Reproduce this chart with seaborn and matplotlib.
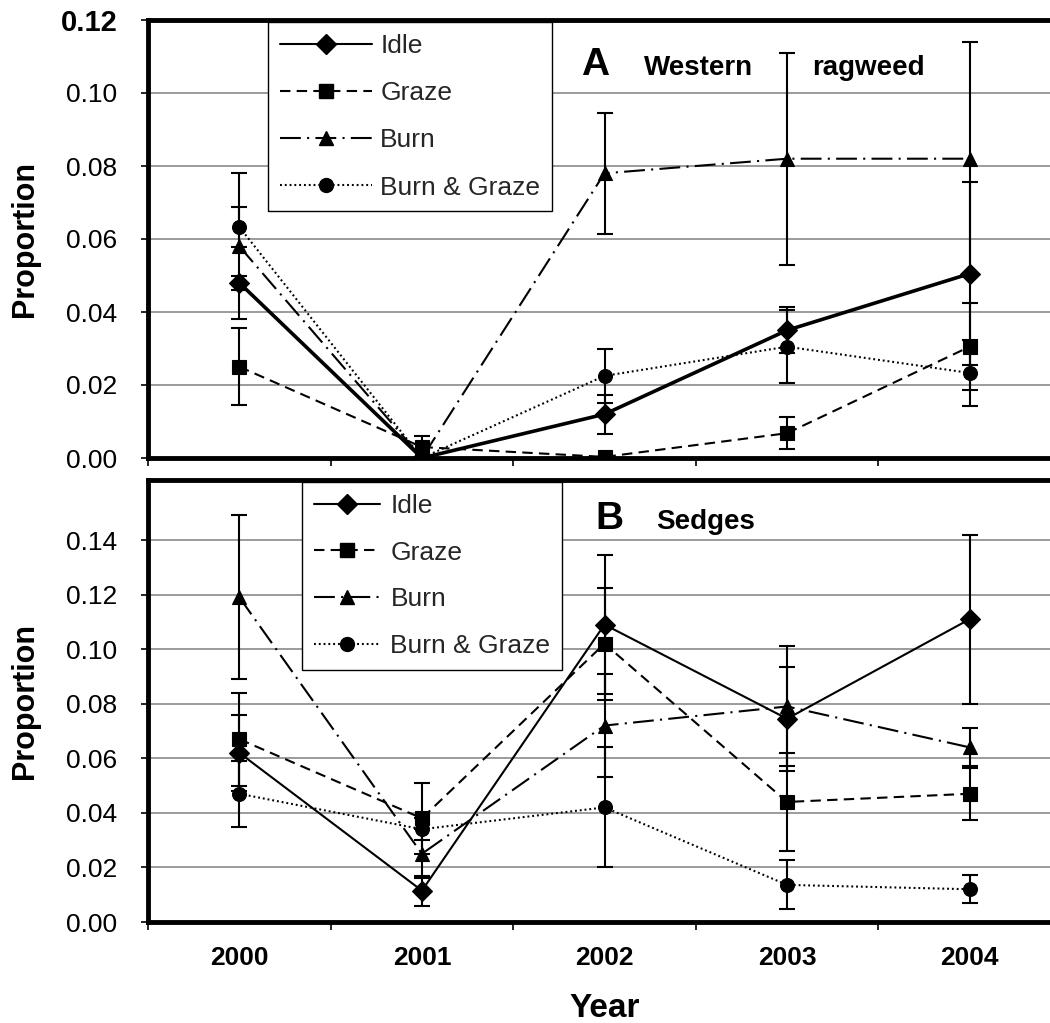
import matplotlib
matplotlib.use("Agg")
import matplotlib.pyplot as plt
from matplotlib.lines import Line2D
import seaborn as sns
import pandas as pd
import numpy as np

# ---------------- data ----------------
years = ["2000", "2001", "2002", "2003", "2004"]
treatments = ["Idle", "Graze", "Burn", "Burn & Graze"]

# Panel A: Western ragweed (mean proportion and error)
ragweed_idle = [0.048, 0.000, 0.012, 0.035, 0.0505]
ragweed_idle_err = [0.002, 0.000, 0.0053, 0.0063, 0.025]
ragweed_graze = [0.025, 0.003, 0.0003, 0.0068, 0.0305]
ragweed_graze_err = [0.0105, 0.003, 0.000, 0.0043, 0.012]
ragweed_burn = [0.058, 0.000, 0.078, 0.082, 0.082]
ragweed_burn_err = [0.020, 0.000, 0.0165, 0.029, 0.032]
ragweed_burngraze = [0.0633, 0.000, 0.0225, 0.0305, 0.0233]
ragweed_burngraze_err = [0.0055, 0.000, 0.0075, 0.010, 0.009]

# Panel B: Sedges
sedges_idle = [0.062, 0.0115, 0.109, 0.0745, 0.111]
sedges_idle_err = [0.014, 0.0055, 0.0255, 0.019, 0.031]
sedges_graze = [0.067, 0.038, 0.102, 0.044, 0.047]
sedges_graze_err = [0.017, 0.013, 0.0205, 0.018, 0.0095]
sedges_burn = [0.119, 0.025, 0.072, 0.079, 0.064]
sedges_burn_err = [0.030, 0.009, 0.019, 0.022, 0.007]
sedges_burngraze = [0.047, 0.034, 0.042, 0.0136, 0.012]
sedges_burngraze_err = [0.012, 0.004, 0.022, 0.009, 0.0052]

ragweed_ticks = [0.00, 0.02, 0.04, 0.06, 0.08, 0.10, 0.12]
sedges_ticks = [0.00, 0.02, 0.04, 0.06, 0.08, 0.10, 0.12, 0.14]

# ---------------- style ----------------
sns.set_theme(style="white")
plt.rcParams["font.family"] = ["Liberation Sans", "DejaVu Sans"]

styles = {
    "Idle": dict(marker="D", linestyle="-"),
    "Graze": dict(marker="s", linestyle=(0, (5, 3))),
    "Burn": dict(marker="^", linestyle=(0, (10, 3, 1, 3))),
    "Burn & Graze": dict(marker="o", linestyle=(0, (0.9, 1.4))),
}

W, H = 1050, 1023
fig = plt.figure(figsize=(W / 100, H / 100), dpi=100)


def axes_px(left, top, right, bottom):
    return fig.add_axes([left / W, 1 - bottom / H, (right - left) / W, (bottom - top) / H])


ax1 = axes_px(148, 20, 1061, 458)
ax2 = axes_px(148, 480, 1061, 922)


def draw(ax, means, errs, idle_lw):
    x = np.arange(len(years))
    for name in treatments:
        m = means[name]
        e = errs[name]
        ax.errorbar(x, m, yerr=e, fmt="none", ecolor="black", elinewidth=1.5,
                    capsize=6, capthick=1.5, zorder=2)
        df = pd.DataFrame({"Year": x, "Proportion": m})
        lw = idle_lw if name == "Idle" else 1.5
        sns.lineplot(data=df, x="Year", y="Proportion", ax=ax, color="black",
                     marker=styles[name]["marker"], markersize=10,
                     markeredgecolor="black", markerfacecolor="black",
                     markeredgewidth=0.8,
                     linestyle=styles[name]["linestyle"], linewidth=lw,
                     errorbar=None, legend=False, zorder=3)


draw(ax1,
     {"Idle": ragweed_idle, "Graze": ragweed_graze, "Burn": ragweed_burn,
      "Burn & Graze": ragweed_burngraze},
     {"Idle": ragweed_idle_err, "Graze": ragweed_graze_err, "Burn": ragweed_burn_err,
      "Burn & Graze": ragweed_burngraze_err},
     idle_lw=2.6)
draw(ax2,
     {"Idle": sedges_idle, "Graze": sedges_graze, "Burn": sedges_burn,
      "Burn & Graze": sedges_burngraze},
     {"Idle": sedges_idle_err, "Graze": sedges_graze_err, "Burn": sedges_burn_err,
      "Burn & Graze": sedges_burngraze_err},
     idle_lw=1.5)

for ax, ticks, top in ((ax1, ragweed_ticks, 0.12), (ax2, sedges_ticks, 0.162)):
    ax.set_xlim(-0.5, len(years) - 0.5)
    ax.set_ylim(0, top)
    ax.set_xticks(np.arange(-0.5, len(years), 1.0))
    ax.set_xticklabels([])
    ax.set_xticks(np.arange(len(years)), minor=True)
    ax.set_yticks(ticks)
    ax.set_yticklabels([f"{t:.2f}" for t in ticks])
    ax.tick_params(axis="x", which="major", direction="out", length=6, width=1.2,
                   bottom=True, color="black")
    ax.tick_params(axis="x", which="minor", length=0, pad=17, labelsize=19,
                   bottom=True)
    ax.tick_params(axis="y", direction="out", length=5, width=1.2, left=True,
                   pad=17, labelsize=19, color="black", labelcolor="black")
    ax.yaxis.grid(True, color="#808080", linewidth=1.1)
    ax.xaxis.grid(False)
    ax.set_axisbelow(True)
    for sp in ax.spines.values():
        sp.set_visible(True)
        sp.set_color("black")
        sp.set_linewidth(3.5)
    ax.set_ylabel("Proportion", fontsize=22, fontweight="bold", color="black")
    ax.yaxis.set_label_coords(-0.118, 0.5)
    ax.set_xlabel("")

top_lbl = ax1.get_yticklabels()[-1]
top_lbl.set_fontweight("bold")
top_lbl.set_fontsize(21)
ax2.set_xticklabels(years, minor=True, fontweight="bold", color="black")
ax2.set_xlabel("Year", fontsize=24, fontweight="bold", labelpad=17, color="black")


def make_handles():
    return [Line2D([], [], color="black", marker=styles[n]["marker"], markersize=10,
                   markerfacecolor="black", markeredgecolor="black",
                   linestyle=styles[n]["linestyle"], linewidth=1.5) for n in treatments]


leg1 = ax1.legend(make_handles(), treatments, loc="upper left",
                  bbox_to_anchor=((268 - 148) / 913, (458 - 22) / 438),
                  borderaxespad=0, frameon=True, fancybox=False, framealpha=1,
                  edgecolor="black", fontsize=19, handlelength=3.5,
                  handletextpad=0.3, labelspacing=0.88, borderpad=0.45)
leg1.get_frame().set_linewidth(1.0)
leg2 = ax2.legend(make_handles(), treatments, loc="upper left",
                  bbox_to_anchor=((302 - 148) / 913, (922 - 482) / 442),
                  borderaxespad=0, frameon=True, fancybox=False, framealpha=1,
                  edgecolor="black", fontsize=19, handlelength=2.5,
                  handletextpad=0.4, labelspacing=0.86, borderpad=0.45)
leg2.get_frame().set_linewidth(1.0)

ax1.text(1.871, 0.1049, "A", fontsize=28, fontweight="bold", va="baseline", color="black")
ax1.text(2.216, 0.1049, "Western", fontsize=20, fontweight="bold", va="baseline", color="black")
ax1.text(3.136, 0.1049, "ragweed", fontsize=20, fontweight="bold", va="baseline", color="black")
ax2.text(1.948, 0.1442, "B", fontsize=28, fontweight="bold", va="baseline", color="black")
ax2.text(2.282, 0.1442, "Sedges", fontsize=20, fontweight="bold", va="baseline", color="black")

fig.savefig("out.png", dpi=100, facecolor="white")
